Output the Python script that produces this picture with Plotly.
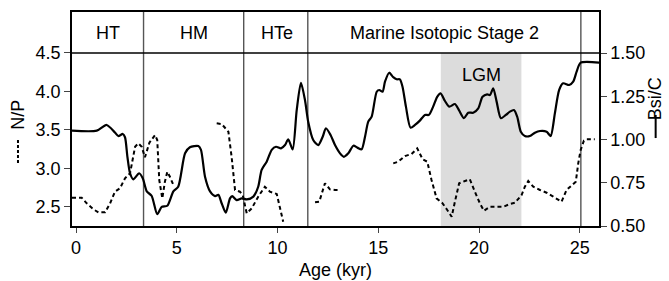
import plotly.graph_objects as go

# ---- data ----
bsi_age = [-0.2, 1.03, 1.52, 1.93, 2.1, 2.32, 2.43, 2.55, 2.68, 2.84, 3.13, 3.31, 3.51, 3.75, 4.03,
           4.25, 4.53, 4.83, 5.07, 5.41, 5.65, 6.07, 6.2, 6.4, 6.65, 6.9, 7.06, 7.23, 7.43, 7.64,
           7.75, 7.97, 8.22, 8.47, 8.8, 9.04, 9.21, 9.46, 9.71, 9.92, 10.17, 10.37, 10.53, 10.75,
           10.95, 11.16, 11.36, 11.52, 11.77, 12.02, 12.24, 12.4, 12.63, 12.85, 13.1, 13.29, 13.51,
           13.76, 13.96, 14.17, 14.34, 14.5, 14.67, 14.92, 15.05, 15.21, 15.33, 15.54, 15.74, 15.91,
           16.07, 16.2, 16.37, 16.6, 16.82, 17.06, 17.31, 17.51, 17.72, 17.92, 18.09, 18.3, 18.52,
           18.8, 19.0, 19.25, 19.46, 19.71, 19.96, 20.17, 20.4, 20.54, 20.7, 20.87, 21.08, 21.33,
           21.53, 21.73, 21.89, 22.07, 22.27, 22.52, 22.77, 23.02, 23.35, 23.55, 23.76, 23.97,
           24.17, 24.47, 24.67, 24.84, 25.04, 26.0]
bsi_c = [1.051, 1.051, 1.084, 1.04, 1.02, 1.032, 1.013, 0.90, 0.805, 0.77, 0.805, 0.776, 0.70, 0.675,
         0.568, 0.61, 0.617, 0.70, 0.727, 0.92, 0.955, 0.962, 0.94, 0.785, 0.70, 0.673, 0.68, 0.63,
         0.577, 0.66, 0.673, 0.65, 0.66, 0.654, 0.67, 0.727, 0.824, 0.872, 0.94, 0.958, 0.949, 0.968,
         1.001, 0.943, 1.17, 1.328, 1.228, 1.103, 0.997, 0.968, 1.016, 1.065, 1.026, 0.968, 0.92,
         0.90, 0.92, 0.964, 0.953, 0.943, 1.016, 1.103, 1.132, 1.276, 1.286, 1.276, 1.334, 1.386,
         1.36, 1.348, 1.348, 1.305, 1.19, 1.068, 1.084, 1.109, 1.142, 1.142, 1.19, 1.247, 1.267,
         1.224, 1.19, 1.205, 1.17, 1.123, 1.155, 1.155, 1.18, 1.247, 1.261, 1.257, 1.296, 1.219,
         1.123, 1.142, 1.161, 1.17, 1.132, 1.045, 1.02, 1.02, 1.039, 1.049, 1.045, 1.02, 1.151,
         1.286, 1.325, 1.315, 1.334, 1.392, 1.444, 1.444]

np_age = [-0.2, 0.28, 0.53, 0.86, 1.11, 1.44, 1.69, 1.93, 2.18, 2.43, 2.68, 2.93, 3.09, 3.26, 3.42,
          3.64, 3.92, 4.03, 4.13, 4.28, 4.41, 4.53, 4.66, 4.83, None,
          6.98, 7.23, 7.56, 7.72, 7.89, 8.13, 8.27, 8.47, 8.72, 9.04, 9.37, 9.62, 9.96, 10.12, 10.28, None,
          11.86, 12.07, 12.35, 12.6, 12.85, 13.0, None,
          15.74, 15.99, 16.32, 16.65, 16.93, 17.2, 17.43, 17.64, 17.89, 18.19, 18.42, 18.64, 18.8,
          19.01, 19.3, 19.54, 19.79, 20.04, 20.24, 20.54, 20.87, 21.2, 21.53, 21.78, 22.11, 22.27,
          22.44, 22.69, 23.02, 23.35, 23.68, 24.09, 24.34, 24.59, 24.8, 24.92, 25.04, 25.2, 25.33, 25.74]
np_ratio = [2.618, 2.618, 2.545, 2.467, 2.428, 2.428, 2.545, 2.696, 2.74, 2.87, 2.935, 3.28, 3.325,
            3.28, 3.143, 3.333, 3.433, 3.368, 2.848, 2.61, 2.826, 2.956, 2.89, 2.783, None,
            3.585, 3.576, 3.476, 3.151, 2.718, 2.696, 2.653, 2.415, 2.48, 2.631, 2.761, 2.696, 2.666,
            2.501, 2.306, None,
            2.558, 2.566, 2.805, 2.727, 2.718, 2.718, None,
            3.065, 3.086, 3.16, 3.186, 3.26, 3.117, 3.086, 2.848, 2.61, 2.545, 2.458, 2.371, 2.566,
            2.805, 2.835, 2.857, 2.696, 2.545, 2.449, 2.50, 2.50, 2.50, 2.536, 2.553, 2.653, 2.761,
            2.835, 2.761, 2.718, 2.683, 2.631, 2.566, 2.718, 2.783, 2.826, 3.065, 3.238, 3.36, 3.378,
            3.378]

period_bounds = [3.35, 8.32, 11.5, 25.05]
period_labels = ["HT", "HM", "HTe", "Marine Isotopic Stage 2"]
period_label_x = [1.6, 5.85, 9.95, 18.3]
lgm_range = [18.1, 22.1]

x_ticks = [0, 5, 10, 15, 20, 25]
np_ticks = [2.5, 3.0, 3.5, 4.0, 4.5]
bsi_ticks = [0.5, 0.75, 1.0, 1.25, 1.5]

FONT = "Liberation Sans, Arial, sans-serif"
FS = 18

fig = go.Figure()
fig.add_trace(go.Scatter(x=np_age, y=np_ratio, mode="lines", yaxis="y",
                         line=dict(color="black", width=2, dash="4px,3px"),
                         connectgaps=False, showlegend=False))
fig.add_trace(go.Scatter(x=bsi_age, y=bsi_c, mode="lines", yaxis="y2",
                         line=dict(color="black", width=2.2, shape="spline", smoothing=0.7),
                         showlegend=False))

shapes = [
    dict(type="rect", xref="x", yref="y", x0=lgm_range[0], x1=lgm_range[1], y0=2.25, y1=4.5,
         fillcolor="#dcdcdc", line=dict(width=0), layer="below"),
    dict(type="line", xref="paper", yref="y", x0=0, x1=1, y0=4.5, y1=4.5,
         line=dict(color="black", width=1.5)),
]
for b in period_bounds:
    shapes.append(dict(type="line", xref="x", yref="paper", x0=b, x1=b, y0=0, y1=1,
                       line=dict(color="#555555", width=1.4), layer="below"))
# axis-title line keys
shapes.append(dict(type="line", xref="paper", yref="paper", x0=-0.1025, x1=-0.1025, y0=0.294, y1=0.411,
                   line=dict(color="black", width=2, dash="3px,2px")))
shapes.append(dict(type="line", xref="paper", yref="paper", x0=1.1075, x1=1.1075, y0=0.411, y1=0.519,
                   line=dict(color="black", width=2)))

annotations = []
for lx, lab in zip(period_label_x, period_labels):
    annotations.append(dict(x=lx, y=4.76, xref="x", yref="y", text=lab, showarrow=False,
                            font=dict(size=FS, family=FONT, color="black"),
                            xanchor="center", yanchor="middle"))
annotations.append(dict(x=20.1, y=4.214, xref="x", yref="y", text="LGM", showarrow=False,
                        font=dict(size=FS, family=FONT, color="black"), xanchor="center", yanchor="middle"))
annotations.append(dict(x=-0.1025, y=0.52, xref="paper", yref="paper", text="N/P", textangle=-90,
                        showarrow=False, font=dict(size=FS, family=FONT, color="black"),
                        xanchor="center", yanchor="middle"))
annotations.append(dict(x=1.108, y=0.596, xref="paper", yref="paper", text="Bsi/C", textangle=-90,
                        showarrow=False, font=dict(size=FS, family=FONT, color="black"),
                        xanchor="center", yanchor="middle"))
annotations.append(dict(x=0.5, y=-0.2056, xref="paper", yref="paper", text="Age (kyr)",
                        showarrow=False, font=dict(size=FS, family=FONT, color="black"),
                        xanchor="center", yanchor="middle"))

fig.update_layout(
    template="none",
    width=669, height=281,
    margin=dict(l=72, r=70, t=12, b=55, autoexpand=False),
    paper_bgcolor="white", plot_bgcolor="white",
    font=dict(family=FONT, size=FS, color="black"),
    shapes=shapes, annotations=annotations,
    xaxis=dict(range=[-0.2, 25.95], tickvals=x_ticks, ticks="outside", ticklen=5, tickwidth=1.3,
               showline=True, linecolor="black", linewidth=1.5, mirror=True, showgrid=False,
               zeroline=False, automargin=False, tickfont=dict(size=FS, family=FONT)),
    yaxis=dict(range=[2.25, 5.033], tickvals=np_ticks, tickformat=".1f", ticks="outside", ticklen=6,
               tickwidth=1.3, showline=True, linecolor="black", linewidth=1.5, showgrid=False,
               zeroline=False, automargin=False, tickfont=dict(size=FS, family=FONT)),
    yaxis2=dict(range=[0.5, 1.737], tickvals=bsi_ticks, tickformat=".2f", ticks="outside", ticklen=6,
                tickwidth=1.3, overlaying="y", side="right", showline=True, linecolor="black",
                linewidth=1.5, showgrid=False, zeroline=False, automargin=False,
                tickfont=dict(size=FS, family=FONT)),
)

fig.write_html("out.html", config={"displayModeBar": False},
               post_script="document.body.style.margin='0px';document.body.style.overflow='hidden';")
